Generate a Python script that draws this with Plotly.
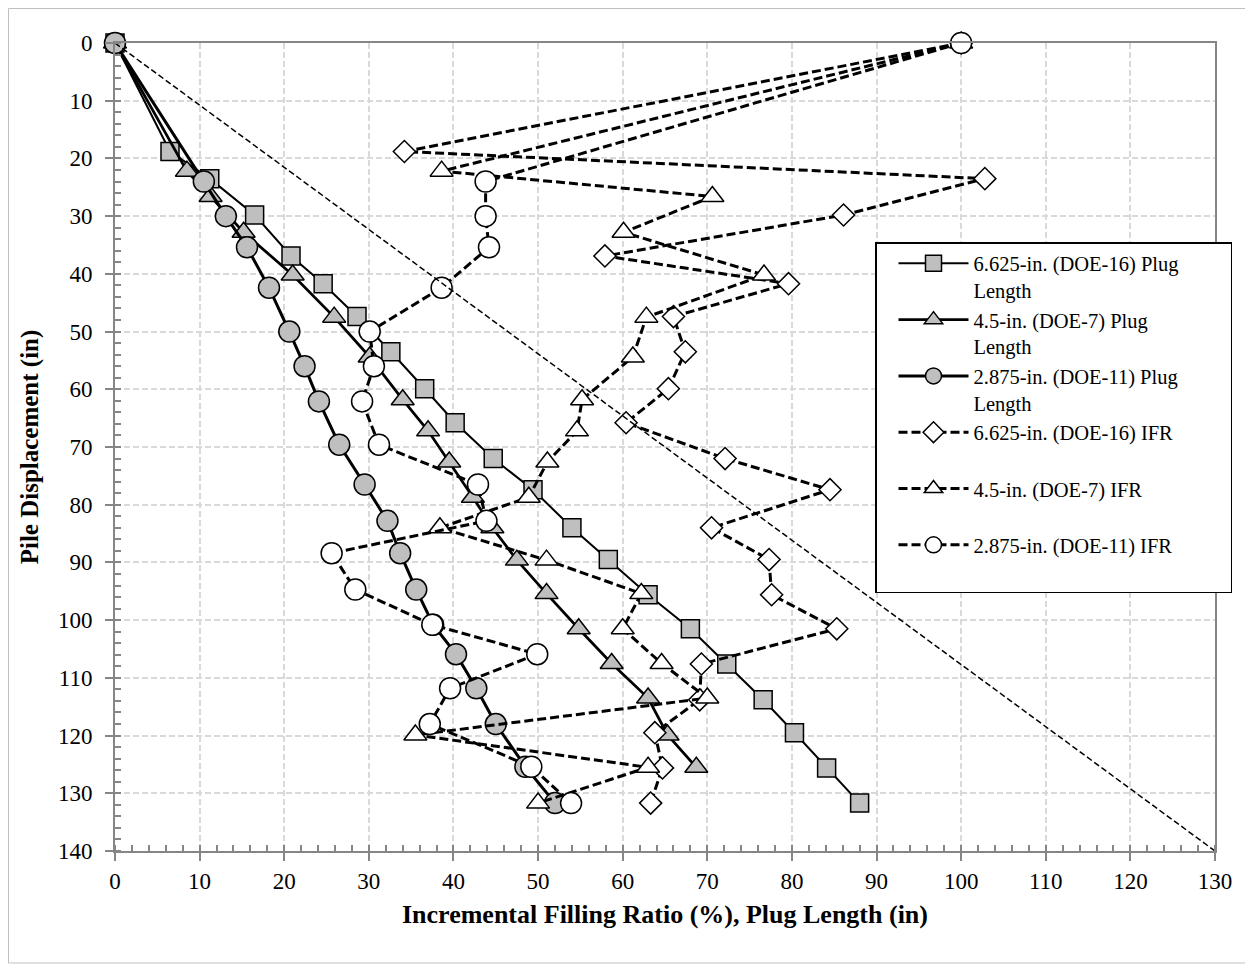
import plotly.graph_objects as go

# ---- data ----
disp_6625 = [0, 18.8, 23.5, 29.8, 36.9, 41.7, 47.4, 53.5, 59.9, 65.8, 72.0, 77.4,
             84.0, 89.5, 95.6, 101.5, 107.6, 113.8, 119.5, 125.6, 131.7]
plug_6625 = [0, 6.5, 11.2, 16.5, 20.8, 24.6, 28.6, 32.6, 36.6, 40.2, 44.7, 49.4,
             54.0, 58.3, 63.0, 68.0, 72.3, 76.6, 80.3, 84.1, 88.0]
ifr_6625 = [100, 34.2, 102.8, 86.1, 57.9, 79.6, 66.0, 67.4, 65.4, 60.4, 72.1, 84.5,
            70.5, 77.3, 77.6, 85.3, 69.3, 69.1, 63.8, 64.7, 63.3]

disp_45_plug = [0, 22.2, 26.6, 32.8, 40.2, 47.5, 54.4, 61.8, 67.2, 72.6, 78.7, 84.0,
                89.6, 95.4, 101.5, 107.5, 113.5, 119.9, 125.5]
plug_45 = [0, 8.5, 11.3, 15.2, 21.0, 25.9, 30.1, 34.0, 37.0, 39.5, 42.3, 44.6,
           47.5, 51.0, 54.8, 58.7, 63.0, 65.3, 68.7]
disp_45_ifr = [0, 22.2, 26.6, 32.8, 40.2, 47.5, 54.4, 61.8, 67.2, 72.6, 78.7, 84.0,
               89.6, 95.4, 101.5, 107.5, 113.5, 119.9, 125.5, 131.7]
ifr_45 = [100, 38.6, 70.6, 60.1, 76.7, 62.8, 61.2, 55.2, 54.6, 51.1, 48.9, 38.4,
          51.0, 62.2, 60.0, 64.6, 70.0, 35.5, 63.0, 50.0]

disp_2875 = [0, 24.0, 30.0, 35.4, 42.4, 50.0, 56.0, 62.1, 69.6, 76.5, 82.8, 88.4,
             94.7, 100.8, 105.9, 111.8, 118.0, 125.4, 131.7]
plug_2875 = [0, 10.5, 13.1, 15.6, 18.2, 20.6, 22.4, 24.1, 26.5, 29.5, 32.2, 33.7,
             35.6, 37.6, 40.3, 42.7, 45.0, 48.5, 52.0]
ifr_2875 = [100, 43.8, 43.8, 44.2, 38.6, 30.1, 30.6, 29.2, 31.2, 42.9, 43.9, 25.6,
            28.4, 37.5, 49.9, 39.6, 37.2, 49.2, 53.9]

ref_x = [0, 130]
ref_y = [0, 140]

PAD = "\u00a0" * 9
names = [
    "6.625-in. (DOE-16) Plug" + PAD + "<br>Length",
    "4.5-in. (DOE-7) Plug<br>Length",
    "2.875-in. (DOE-11) Plug<br>Length",
    "6.625-in. (DOE-16) IFR<br> ",
    "4.5-in. (DOE-7) IFR<br> ",
    "2.875-in. (DOE-11) IFR<br> ",
]

FONT = "Liberation Serif"
GRAY = "#BFBFBF"
AX = "#868686"
DASH = "9px,4px"

fig = go.Figure()

def add(x, y, name, symbol, size, fill, lw, dash):
    fig.add_trace(go.Scatter(
        x=x, y=y, name=name, mode="lines+markers",
        line=dict(color="black", width=lw, dash=dash),
        marker=dict(symbol=symbol, size=size, color=fill,
                    line=dict(color="black", width=1.5)),
        cliponaxis=False,
    ))

add(plug_6625, disp_6625, names[0], "square", 18, GRAY, 2, "solid")
add(plug_45, disp_45_plug, names[1], "triangle-up", 20, GRAY, 2.75, "solid")
add(plug_2875, disp_2875, names[2], "circle", 21, GRAY, 3, "solid")
add(ifr_6625, disp_6625, names[3], "diamond", 17, "white", 3, DASH)
add(ifr_45, disp_45_ifr, names[4], "triangle-up", 20, "white", 3, DASH)
add(ifr_2875, disp_2875, names[5], "circle", 21, "white", 3, DASH)

fig.add_trace(go.Scatter(
    x=ref_x, y=ref_y, mode="lines", showlegend=False, hoverinfo="skip",
    line=dict(color="black", width=1.5, dash="6px,3px"), cliponaxis=False,
))

axis_common = dict(
    showline=True, linecolor=AX, linewidth=2, mirror=True,
    showgrid=True, gridcolor="#D9D9D9", gridwidth=1.5, griddash="6px,3px",
    zeroline=False, ticks="outside", ticklen=8, tickcolor=AX, tickwidth=2,
    tickfont=dict(family=FONT, size=23, color="black"),
    dtick=10,
    minor=dict(ticks="inside", dtick=2, ticklen=6, tickcolor=AX, tickwidth=1.5,
               showgrid=False),
)

fig.update_xaxes(
    range=[0, 130], tick0=0,
    title=dict(text="<b>Incremental Filling Ratio (%), Plug Length (in)</b>",
               font=dict(family=FONT, size=26, color="black"), standoff=12),
    **axis_common,
)
fig.update_yaxes(
    range=[140, 0], tick0=0, ticklabelstandoff=8,
    title=dict(text="<b>Pile Displacement (in)</b>",
               font=dict(family=FONT, size=25, color="black"), standoff=12),
    **axis_common,
)

fig.update_layout(
    width=1253, height=964,
    margin=dict(l=107, r=46, t=35, b=121),
    paper_bgcolor="white", plot_bgcolor="white",
    font=dict(family=FONT, color="black"),
    legend=dict(
        x=(867 - 107) / 1100, y=(843 - 234) / 808,
        xanchor="left", yanchor="top",
        bgcolor="white", bordercolor="black", borderwidth=1.5,
        font=dict(family=FONT, size=20.5, color="black"),
        valign="top", itemwidth=70, indentation=17, tracegroupgap=0,
    ),
    shapes=[dict(
        type="rect", xref="paper", yref="paper",
        x0=(0.5 - 107) / 1100, x1=(1242 - 107) / 1100,
        y0=(843 - 955) / 808, y1=(843 - 0.5) / 808,
        line=dict(color="#BFBFBF", width=1), layer="below",
    )],
)

fig.write_html("out.html")
